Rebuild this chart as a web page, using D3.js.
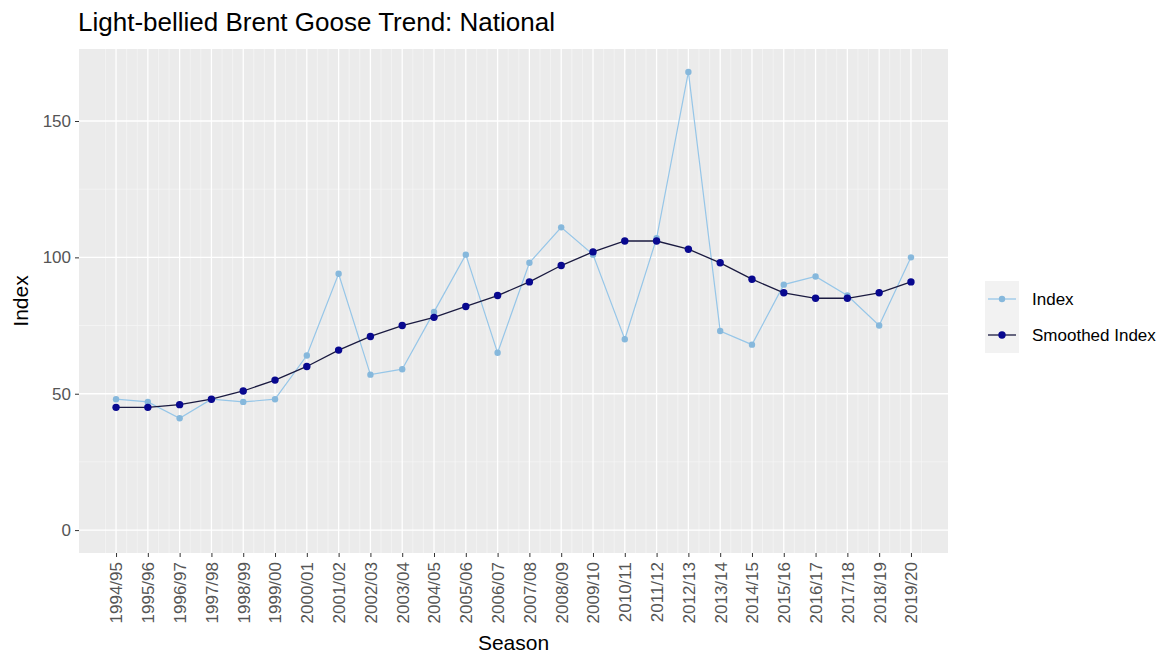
<!DOCTYPE html>
<html>
<head>
<meta charset="utf-8">
<script src="https://cdn.jsdelivr.net/npm/d3@7"></script>
<style>
  html, body { margin: 0; padding: 0; background: #ffffff; }
  svg { display: block; font-family: "Liberation Sans", Arial, sans-serif; }
</style>
</head>
<body>
<svg id="chart" width="1159" height="654"></svg>
<script>
const seasons = ["1994/95","1995/96","1996/97","1997/98","1998/99","1999/00","2000/01","2001/02","2002/03","2003/04","2004/05","2005/06","2006/07","2007/08","2008/09","2009/10","2010/11","2011/12","2012/13","2013/14","2014/15","2015/16","2016/17","2017/18","2018/19","2019/20"];
const indexValues = [48,47,41,48,47,48,64,94,57,59,80,101,65,98,111,101,70,107,168,73,68,90,93,86,75,100];
const smoothedValues = [45,45,46,48,51,55,60,66,71,75,78,82,86,91,97,102,106,106,103,98,92,87,85,85,87,91];
const yTicks = [0,50,100,150];
const yMinor = [25,75,125];
const seriesNames = ["Index","Smoothed Index"];
const title = "Light-bellied Brent Goose Trend: National";

const svg = d3.select("#chart");
const panel = {left: 79, right: 948, top: 49, bottom: 553};

const x = d3.scalePoint().domain(seasons).range([panel.left, panel.right]).padding(1.165);
const y = d3.scaleLinear().domain([-8.4, 176.4]).range([panel.bottom, panel.top]);
const step = x.step();

// panel background
svg.append("rect").attr("x", panel.left).attr("y", panel.top)
  .attr("width", panel.right - panel.left).attr("height", panel.bottom - panel.top)
  .attr("fill", "#ebebeb");

const grid = svg.append("g");
seasons.forEach(s => {
  [-1/3, 1/3].forEach(f => {
    const xx = x(s) + f * step;
    grid.append("line").attr("x1", xx).attr("x2", xx).attr("y1", panel.top).attr("y2", panel.bottom)
      .attr("stroke", "#f6f6f6").attr("stroke-width", 0.7);
  });
});
yMinor.forEach(v => {
  grid.append("line").attr("x1", panel.left).attr("x2", panel.right).attr("y1", y(v)).attr("y2", y(v))
    .attr("stroke", "#f6f6f6").attr("stroke-width", 0.7);
});
yTicks.forEach(v => {
  grid.append("line").attr("x1", panel.left).attr("x2", panel.right).attr("y1", y(v)).attr("y2", y(v))
    .attr("stroke", "#ffffff").attr("stroke-width", 1.3);
});
seasons.forEach(s => {
  grid.append("line").attr("x1", x(s)).attr("x2", x(s)).attr("y1", panel.top).attr("y2", panel.bottom)
    .attr("stroke", "#ffffff").attr("stroke-width", 1.3);
});

// axes
const yAxis = d3.axisLeft(y).tickValues(yTicks).tickSize(4).tickPadding(4);
const gy = svg.append("g").attr("transform", `translate(${panel.left},0)`).call(yAxis);
gy.select(".domain").remove();
gy.selectAll(".tick line").attr("stroke", "#333333");
gy.selectAll(".tick text").attr("fill", "#555555").style("font-size", "17px");

const xAxis = d3.axisBottom(x).tickSize(4).tickPadding(3);
const gx = svg.append("g").attr("transform", `translate(0,${panel.bottom})`).call(xAxis);
gx.select(".domain").remove();
gx.selectAll(".tick line").attr("stroke", "#333333");
gx.selectAll(".tick text").attr("fill", "#555555").style("font-size", "17px")
  .attr("transform", "rotate(-90)")
  .attr("text-anchor", "end")
  .attr("x", -9).attr("y", 0).attr("dy", "0.35em");

// axis titles
svg.append("text").attr("x", (panel.left + panel.right) / 2).attr("y", 650)
  .attr("text-anchor", "middle").style("font-size", "21px").attr("fill", "#000").text("Season");
svg.append("text").attr("transform", `translate(28,${(panel.top + panel.bottom) / 2}) rotate(-90)`)
  .attr("text-anchor", "middle").style("font-size", "21px").attr("fill", "#000").text("Index");

// title
svg.append("text").attr("x", 78).attr("y", 31).style("font-size", "26px").attr("fill", "#000").text(title);

const idxColor = "#96c6e8";
const idxPoint = "#86b8dc";
const smColor = "#1a1a40";
const smPoint = "#08088f";

const line = d3.line().x((d, i) => x(seasons[i])).y(d => y(d));

svg.append("path").datum(indexValues).attr("d", line)
  .attr("fill", "none").attr("stroke", idxColor).attr("stroke-width", 1.2);
svg.append("g").selectAll("circle").data(indexValues).join("circle")
  .attr("cx", (d, i) => x(seasons[i])).attr("cy", d => y(d)).attr("r", 3.2)
  .attr("fill", idxPoint);

svg.append("path").datum(smoothedValues).attr("d", line)
  .attr("fill", "none").attr("stroke", smColor).attr("stroke-width", 1.3);
svg.append("g").selectAll("circle").data(smoothedValues).join("circle")
  .attr("cx", (d, i) => x(seasons[i])).attr("cy", d => y(d)).attr("r", 3.7)
  .attr("fill", smPoint);

// legend
const lg = svg.append("g").attr("transform", "translate(985,281)");
const keyH = 36;
seriesNames.forEach((name, i) => {
  const g = lg.append("g").attr("transform", `translate(0,${i * keyH})`);
  g.append("rect").attr("width", 34).attr("height", keyH).attr("fill", "#f2f2f2");
  const col = i === 0 ? idxColor : smColor;
  const pcol = i === 0 ? idxPoint : smPoint;
  g.append("line").attr("x1", 3).attr("x2", 31).attr("y1", keyH / 2).attr("y2", keyH / 2)
    .attr("stroke", col).attr("stroke-width", 1.3);
  g.append("circle").attr("cx", 17).attr("cy", keyH / 2).attr("r", i === 0 ? 3.2 : 3.7).attr("fill", pcol);
  g.append("text").attr("x", 47).attr("y", keyH / 2).attr("dy", "0.35em")
    .style("font-size", "17px").attr("fill", "#000").text(name);
});
</script>
</body>
</html>
